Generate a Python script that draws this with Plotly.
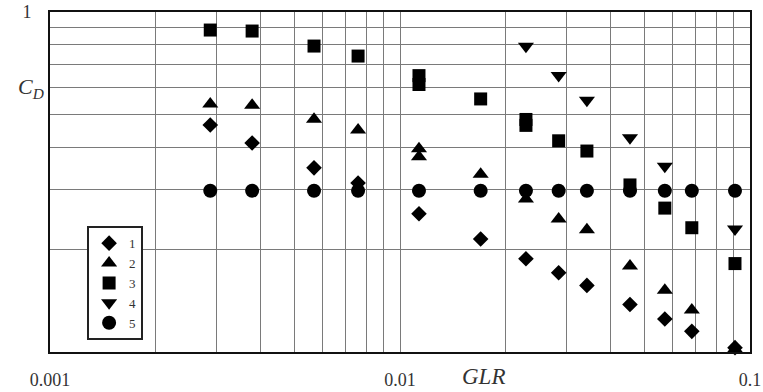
import plotly.graph_objects as go

# GLR values (columns)
x_cols = [0.00287, 0.00378, 0.00568, 0.00759, 0.01133, 0.0170, 0.0229,
          0.0284, 0.0342, 0.0454, 0.0571, 0.0682, 0.0906]

s1_x = x_cols
s1_y = [0.465, 0.412, 0.348, 0.314, 0.255, 0.215, 0.188, 0.171, 0.157,
        0.138, 0.125, 0.115, 0.103]

s2_x = [0.00287, 0.00378, 0.00568, 0.00759, 0.01133, 0.01133, 0.0170,
        0.0229, 0.0284, 0.0342, 0.0454, 0.0571, 0.0682, 0.0906]
s2_y = [0.536, 0.532, 0.484, 0.450, 0.396, 0.375, 0.333, 0.282, 0.246,
        0.229, 0.179, 0.152, 0.133, 0.102]

s3_x = [0.00287, 0.00378, 0.00568, 0.00759, 0.01133, 0.01133, 0.0170,
        0.0229, 0.0229, 0.0284, 0.0342, 0.0454, 0.0571, 0.0682, 0.0906]
s3_y = [0.885, 0.879, 0.794, 0.742, 0.650, 0.612, 0.555, 0.483, 0.464,
        0.418, 0.390, 0.310, 0.265, 0.232, 0.182]

s4_x = [0.0229, 0.0284, 0.0342, 0.0454, 0.0571, 0.0906]
s4_y = [0.793, 0.651, 0.550, 0.427, 0.352, 0.230]

s5_x = x_cols
s5_y = [0.298] * len(x_cols)

series = [
    ("1", s1_x, s1_y, "diamond", 12),
    ("2", s2_x, s2_y, "triangle-up", 14),
    ("3", s3_x, s3_y, "square", 13),
    ("4", s4_x, s4_y, "triangle-down", 14),
    ("5", s5_x, s5_y, "circle", 14),
]

x_grid = [0.001, 0.002, 0.003, 0.004, 0.005, 0.006, 0.007, 0.008, 0.009,
          0.01, 0.02, 0.03, 0.04, 0.05, 0.06, 0.07, 0.08, 0.09, 0.1]
x_text = ["0.001"] + [""] * 8 + ["0.01"] + [""] * 8 + ["0.1"]
y_grid = [0.1, 0.2, 0.3, 0.4, 0.5, 0.6, 0.7, 0.8, 0.9, 1.0]
y_text = [""] * 9 + ["1"]

FONT = "Liberation Serif"

fig = go.Figure()
for name, xs, ys, sym, sz in series:
    fig.add_trace(go.Scatter(
        x=xs, y=ys, mode="markers", name=name, cliponaxis=False,
        marker=dict(symbol=sym, size=sz, color="black", line=dict(width=0)),
    ))

fig.update_layout(
    width=763, height=392,
    margin=dict(l=50, r=13, t=12, b=40, autoexpand=False),
    paper_bgcolor="white", plot_bgcolor="white",
    font=dict(family=FONT, size=18, color="#333"),
    showlegend=True,
    legend=dict(
        x=0.053, y=0.37, xanchor="left", yanchor="top",
        bordercolor="#222", borderwidth=2, bgcolor="white",
        font=dict(family=FONT, size=13, color="#333"),
        tracegroupgap=0, itemwidth=30,
    ),
    xaxis=dict(
        type="log", range=[-3, -1], automargin=False,
        tickmode="array", tickvals=x_grid, ticktext=x_text,
        tickfont=dict(family=FONT, size=18, color="#333"),
        showgrid=True, gridcolor="#7a7a7a", gridwidth=1,
        showline=True, linecolor="#111", linewidth=2, mirror=True,
        ticks="outside", ticklen=10, tickcolor="rgba(0,0,0,0)",
        zeroline=False,
    ),
    yaxis=dict(
        type="log", range=[-1, 0], automargin=False,
        tickmode="array", tickvals=y_grid, ticktext=y_text,
        tickfont=dict(family=FONT, size=18, color="#333"),
        showgrid=True, gridcolor="#7a7a7a", gridwidth=1,
        showline=True, linecolor="#111", linewidth=2, mirror=True,
        ticks="outside", ticklen=13, tickcolor="rgba(0,0,0,0)",
        zeroline=False,
    ),
    annotations=[
        dict(text="<i>GLR</i>", xref="paper", yref="paper",
             x=0.619, y=-0.072, xanchor="center", yanchor="middle",
             showarrow=False, font=dict(family=FONT, size=23, color="#333")),
        dict(text="<i>C</i><sub><i>D</i></sub>", xref="paper", yref="paper",
             x=-0.027, y=0.775, xanchor="center", yanchor="middle",
             showarrow=False, font=dict(family=FONT, size=22, color="#333")),
    ],
)

fig.write_html("out.html")
